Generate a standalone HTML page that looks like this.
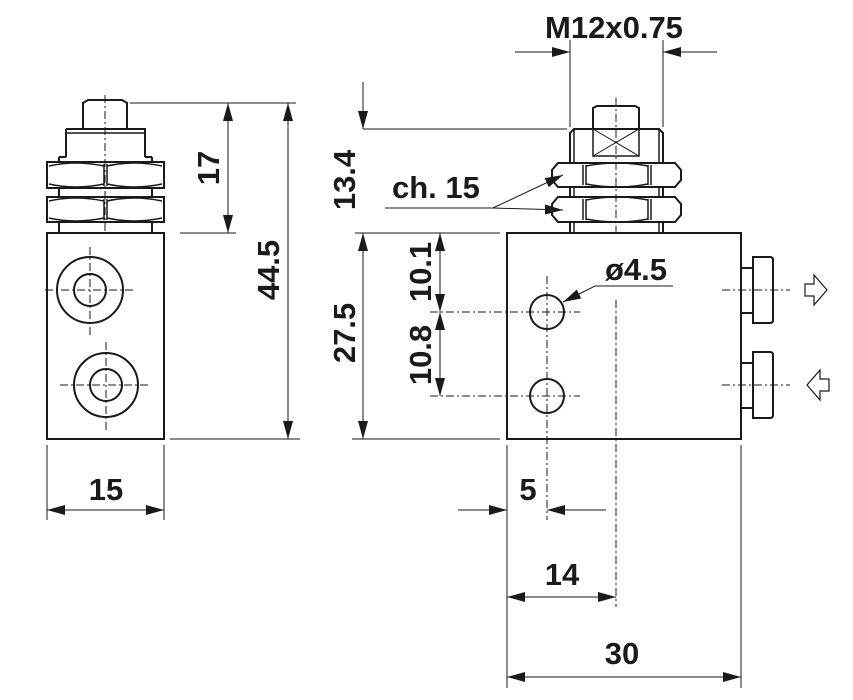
<!DOCTYPE html>
<html><head><meta charset="utf-8"><style>
html,body{margin:0;padding:0;background:#fff;}
svg{display:block;}
text{font-family:"Liberation Sans Narrow","Liberation Sans",sans-serif;font-weight:bold;fill:#1a1a1a;}
</style></head><body>
<svg width="853" height="700" viewBox="0 0 853 700" xmlns="http://www.w3.org/2000/svg">
<defs>
<marker id="a" viewBox="0 0 18 10" refX="18" refY="5" markerWidth="18" markerHeight="10" markerUnits="userSpaceOnUse" orient="auto-start-reverse"><path d="M0,0 L18,5 L0,10 Z" fill="#1a1a1a"/></marker>
</defs>
<g fill="none" stroke="#1a1a1a">
<g stroke-width="2">
<rect x="47" y="233" width="117" height="206"/>
<circle cx="90" cy="290" r="33"/><circle cx="90" cy="290" r="16"/>
<circle cx="106" cy="385" r="32"/><circle cx="106" cy="385" r="16"/>
<path d="M83,129 L83,103 L88,100 L122,100 L127,103 L127,129"/>
<path d="M66,129 L145,129 L145,157 M66,129 L66,157"/>
<path d="M59,157 L66,157 M145,157 L152,157 M59,157 L59,162 M152,157 L152,162"/>
<rect x="47" y="162" width="117" height="26"/>
<rect x="47" y="197" width="117" height="25"/>
<path d="M59,188 L59,197 M152,188 L152,197 M59,222 L59,233 M152,222 L152,233"/>
</g>
<g stroke-width="1.5">
<path d="M49,166 Q75,160 104,166 M49,184 Q75,190 104,184 M107,166 Q134,160 162,166 M107,184 Q134,190 162,184 M104,164 L104,186 M107,164 L107,186"/>
<path d="M49,201 Q75,195 104,201 M49,218 Q75,224 104,218 M107,201 Q134,195 162,201 M107,218 Q134,224 162,218 M104,199 L104,220 M107,199 L107,220"/>
<path d="M66,133 L145,133"/>
</g>
<g stroke-width="1" stroke-dasharray="8,3,2,3">
<path d="M105,95 L105,233"/>
<path d="M90,247 L90,338 M45,290 L135,290"/>
<path d="M106,342 L106,432 M60,385 L150,385"/>
</g>
<g stroke-width="1">
<path d="M130,103 L296,103 M180,233 L236,233 M170,439 L300,439"/>
<path d="M47,445 L47,520 M164,445 L164,520"/>
<path d="M228,103 L228,233" marker-start="url(#a)" marker-end="url(#a)"/>
<path d="M288,103 L288,439" marker-start="url(#a)" marker-end="url(#a)"/>
<path d="M47,510 L164,510" marker-start="url(#a)" marker-end="url(#a)"/>
</g>
<g stroke-width="2">
<rect x="507" y="233" width="234" height="206"/>
<path d="M593,129 L593,108 L597,106 L635,106 L639,108 L639,129"/>
<path d="M570,163 L570,133 L574,129 L659,129 L663,133 L663,163"/>
<rect x="593" y="129" width="46" height="27" stroke-width="1.5"/>
<path d="M552,170 L558,163 L675,163 L681,170 L681,180 L675,187 L558,187 L552,180 Z"/>
<path d="M552,204 L558,197 L675,197 L681,204 L681,215 L675,222 L558,222 L552,215 Z"/>
<path d="M570,187 L570,197 M663,187 L663,197 M570,222 L570,233 M663,222 L663,233"/>
<circle cx="547" cy="312" r="17"/><circle cx="547" cy="396" r="17"/>
<path d="M741,268 L753,268 M741,313 L753,313"/>
<path d="M753,257 L770,257 Q773,257 773,260 L773,320 Q773,323 770,323 L753,323 Z"/>
<path d="M741,363 L753,363 M741,408 L753,408"/>
<path d="M753,352 L770,352 Q773,352 773,355 L773,415 Q773,418 770,418 L753,418 Z"/>
</g>
<g stroke-width="1.5">
<path d="M583,165 L583,185 M586,165 L586,185 M648,165 L648,185 M651,165 L651,185"/>
<path d="M583,199 L583,220 M586,199 L586,220 M648,199 L648,220 M651,199 L651,220"/>
<path d="M586,166 Q617,160 648,166 M586,184 Q617,190 648,184 M586,200 Q617,194 648,200 M586,219 Q617,225 648,219"/>
<path d="M574,129 L574,163 M659,129 L659,163 M574,187 L574,197 M659,187 L659,197 M574,222 L574,233 M659,222 L659,233"/>
</g>
<g stroke-width="1"><path d="M593,129 L639,156 M639,129 L593,156"/></g>
<g stroke-width="1" stroke-dasharray="8,3,2,3">
<path d="M616,98 L616,233"/>
<path d="M616,300 L616,607"/>
<path d="M547,276 L547,520"/>
<path d="M430,312 L580,312 M430,396 L580,396"/>
<path d="M722,290 L790,290 M722,385 L790,385"/>
</g>
<path d="M805,284 L814,284 L814,275 L827,290 L814,305 L814,296 L805,296 Z" stroke-width="1.2"/>
<path d="M829,379 L820,379 L820,370 L807,385 L820,400 L820,391 L829,391 Z" stroke-width="1.2"/>
<g stroke-width="1">
<path d="M570,40 L570,127 M663,40 L663,127"/>
<path d="M515,52 L570,52" marker-end="url(#a)"/>
<path d="M717,52 L663,52" marker-end="url(#a)"/>
<path d="M363,129 L567,129 M355,233 L500,233 M352,439 L500,439"/>
<path d="M363,82 L363,129" marker-end="url(#a)"/>
<path d="M363,233 L363,439" marker-start="url(#a)" marker-end="url(#a)"/>
<path d="M440,233 L440,312" marker-start="url(#a)" marker-end="url(#a)"/>
<path d="M440,312 L440,396" marker-start="url(#a)" marker-end="url(#a)"/>
<path d="M385,208 L493,208 L563,175" marker-end="url(#a)"/>
<path d="M493,208 L563,210" marker-end="url(#a)"/>
<path d="M673,286 L595,286 L563,302" marker-end="url(#a)"/>
<path d="M507,445 L507,688 M741,445 L741,688"/>
<path d="M458,510 L507,510" marker-end="url(#a)"/>
<path d="M606,510 L547,510" marker-end="url(#a)"/>
<path d="M507,597 L616,597" marker-start="url(#a)" marker-end="url(#a)"/>
<path d="M507,677 L741,677" marker-start="url(#a)" marker-end="url(#a)"/>
</g>
</g>
<g font-size="31">
<text x="614" y="38" text-anchor="middle">M12x0.75</text>
<text x="392" y="198">ch. 15</text>
<text x="636" y="280" text-anchor="middle">ø4.5</text>
<text x="106" y="500" text-anchor="middle">15</text>
<text x="528" y="500" text-anchor="middle">5</text>
<text x="562" y="585" text-anchor="middle">14</text>
<text x="622" y="664" text-anchor="middle">30</text>
<text transform="translate(219,168) rotate(-90)" text-anchor="middle">17</text>
<text transform="translate(279,270) rotate(-90)" text-anchor="middle">44.5</text>
<text transform="translate(355,180) rotate(-90)" text-anchor="middle">13.4</text>
<text transform="translate(355,333) rotate(-90)" text-anchor="middle">27.5</text>
<text transform="translate(431,272) rotate(-90)" text-anchor="middle">10.1</text>
<text transform="translate(431,355) rotate(-90)" text-anchor="middle">10.8</text>
</g>
</svg>
</body></html>
